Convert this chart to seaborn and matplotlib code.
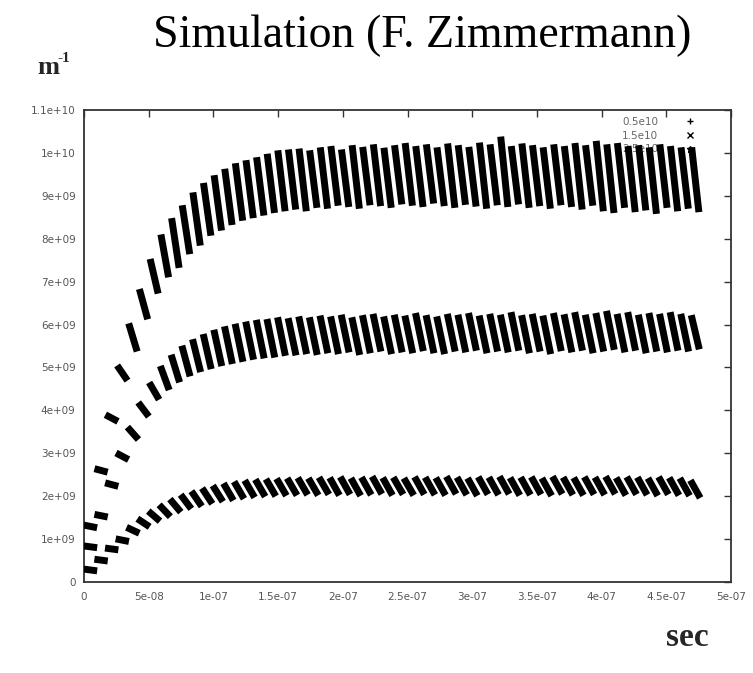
import numpy as np
import pandas as pd
import matplotlib
matplotlib.use("Agg")
import matplotlib.pyplot as plt
import seaborn as sns
from matplotlib.lines import Line2D

# ---- data (times in ns, values in 1e9 m^-1) ----
stroke_start_ns = [2.5, 10.7, 18.9, 27.1, 35.3, 43.5, 51.7, 59.9, 68.1, 76.3,
                   84.5, 92.7, 100.9, 109.1, 117.3, 125.5, 133.7, 141.9, 150.1, 158.3,
                   166.5, 174.7, 182.9, 191.1, 199.3, 207.5, 215.7, 223.9, 232.1, 240.3,
                   248.5, 256.7, 264.9, 273.1, 281.3, 289.5, 297.7, 305.9, 314.1, 322.3,
                   330.5, 338.7, 346.9, 355.1, 363.3, 371.5, 379.7, 387.9, 396.1, 404.3,
                   412.5, 420.7, 428.9, 437.1, 445.3, 453.5, 461.7, 469.9]
train_length_ns = 5.0

labels = ["0.5e10", "1.5e10", "2.5e10"]
markers = ["+", "x", "*"]

low_top = [0.29, 0.52, 0.78, 0.99, 1.24, 1.43, 1.6, 1.74, 1.87, 1.97,
           2.05, 2.12, 2.18, 2.23, 2.27, 2.3, 2.32, 2.33, 2.34, 2.35,
           2.36, 2.35, 2.37, 2.36, 2.38, 2.35, 2.37, 2.39, 2.36, 2.37,
           2.35, 2.38, 2.37, 2.36, 2.39, 2.37, 2.35, 2.38, 2.37, 2.39,
           2.36, 2.37, 2.38, 2.35, 2.39, 2.37, 2.36, 2.38, 2.37, 2.39,
           2.36, 2.38, 2.37, 2.35, 2.38, 2.36, 2.35, 2.3]
low_bot = [0.27, 0.5, 0.76, 0.96, 1.17, 1.33, 1.47, 1.58, 1.69, 1.77,
           1.83, 1.89, 1.94, 1.97, 2.01, 2.04, 2.06, 2.07, 2.08, 2.09,
           2.1, 2.09, 2.11, 2.09, 2.11, 2.08, 2.1, 2.12, 2.09, 2.11,
           2.09, 2.11, 2.1, 2.09, 2.12, 2.1, 2.08, 2.11, 2.1, 2.12,
           2.09, 2.1, 2.11, 2.08, 2.12, 2.1, 2.09, 2.11, 2.1, 2.12,
           2.09, 2.11, 2.1, 2.08, 2.11, 2.09, 2.08, 2.03]

mid_top = [0.83, 1.56, 2.29, 2.97, 3.55, 4.12, 4.58, 4.96, 5.22, 5.43,
           5.58, 5.7, 5.8, 5.88, 5.94, 5.99, 6.03, 6.05, 6.09, 6.07,
           6.11, 6.09, 6.13, 6.11, 6.15, 6.09, 6.14, 6.17, 6.11, 6.15,
           6.13, 6.19, 6.14, 6.11, 6.17, 6.15, 6.19, 6.13, 6.17, 6.15,
           6.21, 6.14, 6.17, 6.13, 6.19, 6.16, 6.21, 6.15, 6.19, 6.24,
           6.17, 6.21, 6.15, 6.19, 6.17, 6.21, 6.17, 6.14]
mid_bot = [0.81, 1.53, 2.25, 2.89, 3.38, 3.92, 4.32, 4.55, 4.73, 4.87,
           4.97, 5.04, 5.11, 5.16, 5.21, 5.26, 5.29, 5.31, 5.35, 5.36,
           5.39, 5.37, 5.41, 5.39, 5.43, 5.37, 5.41, 5.45, 5.39, 5.43,
           5.41, 5.46, 5.41, 5.39, 5.45, 5.43, 5.47, 5.41, 5.45, 5.43,
           5.47, 5.41, 5.45, 5.39, 5.46, 5.43, 5.47, 5.41, 5.45, 5.49,
           5.43, 5.47, 5.41, 5.45, 5.43, 5.47, 5.45, 5.5]

top_top = [1.31, 2.62, 3.86, 4.98, 5.95, 6.75, 7.45, 8.02, 8.4, 8.7,
           9.0, 9.22, 9.4, 9.55, 9.68, 9.75, 9.82, 9.9, 9.98, 10.0,
           10.02, 9.98, 10.05, 10.08, 10.0, 10.1, 10.06, 10.12, 10.04, 10.1,
           10.15, 10.08, 10.12, 10.05, 10.14, 10.1, 10.06, 10.16, 10.12, 10.3,
           10.08, 10.14, 10.1, 10.05, 10.12, 10.08, 10.15, 10.1, 10.2, 10.12,
           10.15, 10.08, 10.1, 10.05, 10.12, 10.08, 10.05, 10.05]
top_bot = [1.28, 2.58, 3.78, 4.76, 5.45, 6.2, 6.8, 7.18, 7.4, 7.72,
           7.92, 8.15, 8.27, 8.4, 8.5, 8.56, 8.62, 8.68, 8.72, 8.76,
           8.72, 8.8, 8.78, 8.85, 8.82, 8.78, 8.86, 8.84, 8.8, 8.88,
           8.85, 8.82, 8.9, 8.84, 8.8, 8.87, 8.83, 8.78, 8.86, 8.82,
           8.88, 8.8, 8.84, 8.78, 8.86, 8.82, 8.76, 8.85, 8.72, 8.68,
           8.8, 8.7, 8.74, 8.66, 8.8, 8.72, 8.78, 8.7]

ytick_vals = [0, 1e9, 2e9, 3e9, 4e9, 5e9, 6e9, 7e9, 8e9, 9e9, 1e10, 1.1e10]
ytick_labels = ["0", "1e+09", "2e+09", "3e+09", "4e+09", "5e+09", "6e+09",
                "7e+09", "8e+09", "9e+09", "1e+10", "1.1e+10"]
xtick_vals = [0, 5e-8, 1e-7, 1.5e-7, 2e-7, 2.5e-7, 3e-7, 3.5e-7, 4e-7, 4.5e-7, 5e-7]
xtick_labels = ["0", "5e-08", "1e-07", "1.5e-07", "2e-07", "2.5e-07", "3e-07",
                "3.5e-07", "4e-07", "4.5e-07", "5e-07"]

# ---- long table: each stroke = (start, top) -> (end, bottom) ----
rows = []
for lab, tops, bots in zip(labels, [low_top, mid_top, top_top], [low_bot, mid_bot, top_bot]):
    for k, (t0, vt, vb) in enumerate(zip(stroke_start_ns, tops, bots)):
        rows.append({"band": lab, "stroke": k, "t": t0 * 1e-9, "v": vt * 1e9})
        rows.append({"band": lab, "stroke": k, "t": (t0 + train_length_ns) * 1e-9, "v": vb * 1e9})
df = pd.DataFrame(rows)

sns.set_style("white")
plt.rcParams["font.family"] = ["DejaVu Sans"]

fig = plt.figure(figsize=(7.53, 6.73), dpi=100)
ax = fig.add_axes([84 / 753, 1 - 582 / 673, 647 / 753, 472 / 673])

for lab in labels:
    sub = df[df["band"] == lab]
    sns.lineplot(data=sub, x="t", y="v", units="stroke", estimator=None,
                 color="black", linewidth=5.0, sort=False, legend=False,
                 ax=ax, zorder=3, solid_capstyle="projecting")

ax.set_xlim(0, 5e-7)
ax.set_ylim(0, 1.1e10)
ax.set_xticks(xtick_vals)
ax.set_xticklabels(xtick_labels)
ax.set_yticks(ytick_vals)
ax.set_yticklabels(ytick_labels)
ax.set_xlabel("")
ax.set_ylabel("")
ax.tick_params(direction="in", length=5, width=1, colors="#333333",
               labelcolor="#555555", labelsize=7.5, top=True, right=True)
ax.tick_params(axis="y", pad=6)
ax.tick_params(axis="x", pad=7)
for s in ax.spines.values():
    s.set_color("#333333")
    s.set_linewidth(1.3)
    s.set_visible(True)

handles = [Line2D([], [], ls="", marker=m, color="black", markersize=4.5, markeredgewidth=1.0)
           for m in markers]
leg = ax.legend(handles, labels, loc="upper right", bbox_to_anchor=(0.952, 0.985),
                frameon=False, fontsize=7.5, labelcolor="#666666", markerfirst=False,
                handletextpad=2.0, labelspacing=0.35, borderaxespad=0, borderpad=0)
leg.set_zorder(1)

fig.text(0.561, 1 - 36 / 673, "Simulation (F. Zimmermann)", family="Liberation Serif",
         fontsize=33, ha="center", va="center", color="black")
fig.text(37 / 753, 1 - 74 / 673, "m", family="Liberation Serif", fontweight="bold",
         fontsize=19, ha="left", va="baseline")
fig.text(58 / 753, 1 - 62 / 673, "-1", family="Liberation Serif", fontweight="bold",
         fontsize=11, ha="left", va="baseline")
fig.text(666 / 753, 1 - 646 / 673, "sec", family="Liberation Serif", fontweight="bold",
         fontsize=24, ha="left", va="baseline")

fig.savefig("out.png", dpi=100)
